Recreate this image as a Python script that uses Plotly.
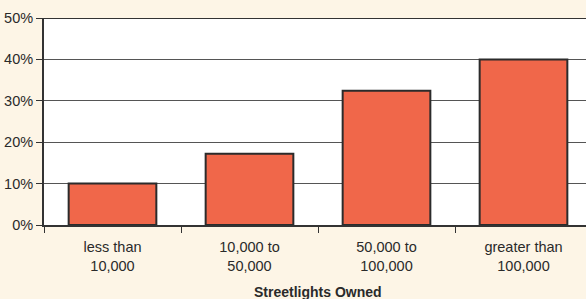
import plotly.graph_objects as go

categories = ["less than<br>10,000", "10,000 to<br>50,000", "50,000 to<br>100,000", "greater than<br>100,000"]
values = [10.0, 17.2, 32.4, 40.0]
y_ticks = [0, 10, 20, 30, 40, 50]
y_tick_labels = ["0%", "10%", "20%", "30%", "40%", "50%"]

font_family = "Liberation Sans, Arial, sans-serif"
text_color = "#2a2a2a"

fig = go.Figure()
fig.add_trace(go.Bar(
    x=categories,
    y=values,
    marker=dict(color="#F0674A", line=dict(color="#2b2b2b", width=2)),
    width=0.64,
    hoverinfo="skip",
))

fig.update_layout(
    width=586, height=299,
    margin=dict(l=44, r=0, t=18, b=74, autoexpand=False),
    paper_bgcolor="#FDF5E6",
    plot_bgcolor="#FFFFFF",
    showlegend=False,
    font=dict(family=font_family, size=14, color=text_color),
    xaxis=dict(
        type="category",
        range=[-0.5, -0.5 + 542 / 137],
        tickson="boundaries",
        ticks="outside", ticklen=6, tickcolor="#333333", tickwidth=1,
        showline=True, linecolor="#333333", linewidth=2,
        showgrid=False,
        automargin=False,
        ticklabelstandoff=8,
        tickfont=dict(family=font_family, size=14.5, color=text_color),
        fixedrange=True,
    ),
    yaxis=dict(
        range=[0, 50],
        tickvals=y_ticks,
        ticktext=y_tick_labels,
        ticks="outside", ticklen=6, tickcolor="#333333", tickwidth=1,
        showline=True, linecolor="#333333", linewidth=2,
        showgrid=True, gridcolor="#555555", gridwidth=1,
        zeroline=False,
        automargin=False,
        tickfont=dict(family=font_family, size=14.5, color=text_color),
        fixedrange=True,
    ),
    annotations=[dict(
        text="<b>Streetlights Owned</b>",
        x=0.505, xref="paper", y=0, yref="paper",
        yshift=-67, yanchor="middle", xanchor="center",
        showarrow=False,
        font=dict(family=font_family, size=14, color=text_color),
    )],
    shapes=[dict(type="line", xref="paper", yref="y", x0=0, x1=1, y0=50, y1=50,
                 line=dict(color="#333333", width=2))],
)

fig.write_html(
    "out.html",
    config={"displayModeBar": False},
    post_script="document.body.style.margin='0';document.body.style.padding='0';document.body.style.overflow='hidden';",
)
